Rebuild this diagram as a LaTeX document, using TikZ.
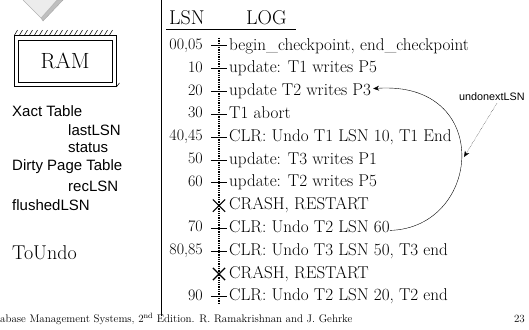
\documentclass[tikz,border=0pt]{standalone}
\usepackage{fontspec}
\newfontfamily\arialfont{Liberation Sans}
\usetikzlibrary{shapes.misc,arrows.meta}

\begin{document}
\begin{tikzpicture}
    [   x=1pt,y=-1pt,
        lsnlabel/.style={anchor=east,inner sep=0pt,font=\fontsize{16}{18}\selectfont,text height=10pt,text depth=3pt},
        logentry/.style={anchor=west,inner sep=0pt,font=\fontsize{17.1}{19}\selectfont,text height=11pt,text depth=3pt},
        tickmark/.style={inner sep=0pt,minimum width=16pt,minimum height=0pt},
        crashmark/.style={draw,cross out,line width=1.2pt,inner sep=0pt,minimum size=11pt},
        sidelabel/.style={anchor=west,inner sep=0pt,font=\arialfont\fontsize{15}{17}\selectfont},
    ]
    \tikzset{undo arrow/.style={draw,-{Stealth[length=6pt,width=5pt]}}}
    \useasboundingbox (0,0) rectangle (529,329);

    % gray arrow head at the top
    \filldraw[fill=gray!50,draw=gray!70,line width=0.4pt] (41,18) -- (43,21) -- (63,0) -- (57,0) -- cycle;
    \filldraw[fill=gray!15,draw=gray!60,line width=0.4pt] (23,0) -- (41,18) -- (57,0);

    % RAM box
    \node[draw,line width=0.9pt,minimum width=102pt,minimum height=51pt,inner sep=0pt] (ram-out) at (65,61) {};
    \node[draw,minimum width=94pt,minimum height=42pt,inner sep=0pt,font=\fontsize{22}{24}\selectfont] (ram) at (65,61) {RAM};
    \foreach \h in {0,...,19}
        \draw[line width=0.5pt] ([xshift=\h*5pt+1pt]ram-out.north west) -- ++(3,-5);
    \draw[line width=0.5pt] (ram-out.south east) -- ++(3,-4);

    % tables kept in RAM
    \node[sidelabel] (xact) at (12,111) {Xact Table};
    \node[sidelabel] (lastlsn) at (68,130) {lastLSN};
    \node[sidelabel] (status) at (68,148) {status};
    \node[sidelabel] (dpt) at (12,167) {Dirty Page Table};
    \node[sidelabel] (reclsn) at (68,186) {recLSN};
    \node[sidelabel] (flushed) at (12,205) {flushedLSN};
    \node[anchor=west,inner sep=0pt,font=\fontsize{20}{22}\selectfont] (toundo) at (12,253) {ToUndo};

    % separator
    \coordinate (sep-top) at (161,0);
    \coordinate (sep-bot) at (161,316);
    \draw[line width=0.8pt] (sep-top) -- (sep-bot);

    % header
    \node[anchor=base west,inner sep=0pt,font=\fontsize{20}{22}\selectfont] (lsn-head) at (169,25) {LSN};
    \node[anchor=base west,inner sep=0pt,font=\fontsize{20}{22}\selectfont] (log-head) at (246,25) {LOG};
    \draw[line width=0.9pt] ([xshift=-3pt,yshift=-4pt]lsn-head.base west) -- ([xshift=9pt,yshift=-4pt]log-head.base east);

    % log records
    \foreach \i/\lsn/\txt in {1/{00,05}/{begin\_checkpoint, end\_checkpoint},
                              2/10/{update: T1 writes P5},
                              3/20/{update T2 writes P3},
                              4/30/{T1 abort},
                              5/{40,45}/{CLR: Undo T1 LSN 10, T1 End},
                              6/50/{update: T3 writes P1},
                              7/60/{update: T2 writes P5},
                              9/70/{CLR: Undo T2 LSN 60},
                              10/{80,85}/{CLR: Undo T3 LSN 50, T3 end},
                              12/90/{CLR: Undo T2 LSN 20, T2 end}}
        {
            \node[lsnlabel] (n-\i) at (203,{46+22.8*(\i-1)}) {\lsn};
            \node[tickmark] (k-\i) at (219,{46+22.8*(\i-1)}) {};
            \node[logentry] (l-\i) at (229,{46+22.8*(\i-1)}) {\txt};
            \draw[line width=1pt] (k-\i.west) -- (k-\i.east);
        }

    \foreach \i in {8,11}
        {
            \node[crashmark] (k-\i) at (219,{46+22.8*(\i-1)}) {};
            \node[logentry] (l-\i) at (229,{46+22.8*(\i-1)}) {CRASH, RESTART};
        }

    \draw[densely dotted,line width=1.3pt] ([yshift=8pt]k-1.center) -- ([yshift=-6pt]k-12.center);

    % undonextLSN pointer
    \path[undo arrow] ([yshift=-2pt]l-9.east) .. controls (482,228) and (494,80) .. ([xshift=2pt,yshift=3pt]l-3.east);
    \node[anchor=west,inner sep=0pt,font=\arialfont\fontsize{10.8}{13}\selectfont] (undonext) at (459,97) {undonextLSN};
    \coordinate (curve-hit) at (464,157);
    \draw[densely dotted,-{Stealth[length=6pt,width=5pt]}] ([xshift=5pt,yshift=-2pt]undonext.south) -- (curve-hit);

    % footer
    \node[anchor=base west,inner sep=0pt,font=\fontsize{11}{12}\selectfont] (footer) at (0,322) {abase Management Systems, 2\textsuperscript{nd} Edition. R. Ramakrishnan and J. Gehrke};
    \node[anchor=base east,inner sep=0pt,font=\fontsize{11}{12}\selectfont] (page) at (525,322) {23};
\end{tikzpicture}
\end{document}
